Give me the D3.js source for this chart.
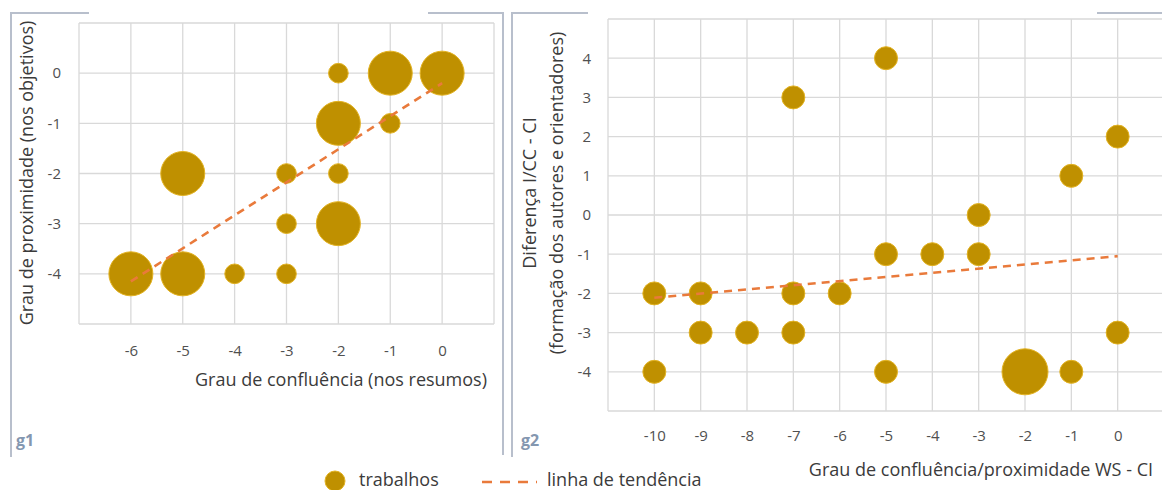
<!DOCTYPE html>
<html>
<head>
<meta charset="utf-8">
<script src="https://cdn.jsdelivr.net/npm/d3@7"></script>
<style>
  body { margin: 0; background: #fff; }
  text { font-family: "Open Sans", Lato, sans-serif; }
</style>
</head>
<body>
<svg id="chart" width="1162" height="490"></svg>
<script>
// g1 data: confluence (abstracts) vs proximity (objectives)
var g1X = [-2, -1, 0, -2, -1, -5, -3, -2, -3, -2, -6, -5, -4, -3];
var g1Y = [0, 0, 0, -1, -1, -2, -2, -2, -3, -3, -4, -4, -4, -4];
var g1Size = [1, 5, 5, 5, 1, 5, 1, 1, 1, 5, 5, 5, 1, 1];
var g1TrendX = [-6, 0];
var g1TrendY = [-4.15, -0.2];
var g1XTicks = [-6, -5, -4, -3, -2, -1, 0];
var g1YTicks = [0, -1, -2, -3, -4];

// g2 data: WS - CI vs I/CC - CI
var g2X = [-5, -7, 0, -1, -3, -5, -4, -3, -10, -9, -7, -6, -9, -8, -7, 0, -10, -5, -2, -1];
var g2Y = [4, 3, 2, 1, 0, -1, -1, -1, -2, -2, -2, -2, -3, -3, -3, -3, -4, -4, -4, -4];
var g2Size = [1, 1, 1, 1, 1, 1, 1, 1, 1, 1, 1, 1, 1, 1, 1, 1, 1, 1, 4, 1];
var g2TrendX = [-10, 0];
var g2TrendY = [-2.11, -1.05];
var g2XTicks = [-10, -9, -8, -7, -6, -5, -4, -3, -2, -1, 0];
var g2YTicks = [4, 3, 2, 1, 0, -1, -2, -3, -4];

var bubbleFill = "#bf9000", bubbleStroke = "#e3b323";
var trendColor = "#e97a3b";
var gridColor = "#d9d9d9";
var frameColor = "#b8bfcc";
var textColor = "#3b3b3b";

var svg = d3.select("#chart");

function zip(xs, ys, ss) {
  return xs.map(function(x, i) { return {x: x, y: ys[i], s: ss ? ss[i] : 1}; });
}

function panel(cfg) {
  var x = d3.scaleLinear().domain(cfg.xDomain).range(cfg.xRange);
  var y = d3.scaleLinear().domain(cfg.yDomain).range(cfg.yRange);
  var r = d3.scaleSqrt().domain([0, cfg.sMax]).range([0, cfg.rMax]);
  var g = svg.append("g");

  // gridlines
  g.append("g").selectAll("line.v")
    .data(d3.range(cfg.xDomain[0], cfg.xDomain[1] + 1))
    .enter().append("line")
      .attr("x1", function(d) { return x(d); }).attr("x2", function(d) { return x(d); })
      .attr("y1", y(cfg.yDomain[0])).attr("y2", y(cfg.yDomain[1]))
      .attr("stroke", gridColor).attr("stroke-width", 1.3);
  g.append("g").selectAll("line.h")
    .data(d3.range(cfg.yDomain[0], cfg.yDomain[1] + 1))
    .enter().append("line")
      .attr("x1", x(cfg.xDomain[0])).attr("x2", x(cfg.xDomain[1]))
      .attr("y1", function(d) { return y(d); }).attr("y2", function(d) { return y(d); })
      .attr("stroke", gridColor).attr("stroke-width", 1.3);

  // axes (labels only, hyphen minus like the original)
  var fmt = function(d) { return String(d); };
  var ax = g.append("g")
    .attr("transform", "translate(0," + cfg.xTickY + ")")
    .call(d3.axisBottom(x).tickValues(cfg.xTicks).tickSize(0).tickFormat(fmt));
  ax.select(".domain").remove();
  ax.selectAll("text").attr("font-size", 15).attr("fill", "#505050")
    .attr("font-family", "'Open Sans', sans-serif");

  var ay = g.append("g")
    .attr("transform", "translate(" + cfg.yTickX + ",0)")
    .call(d3.axisLeft(y).tickValues(cfg.yTicks).tickSize(0).tickFormat(fmt));
  ay.select(".domain").remove();
  ay.selectAll("text").attr("font-size", 15).attr("fill", "#505050")
    .attr("font-family", "'Open Sans', sans-serif");

  // bubbles
  g.append("g").selectAll("circle")
    .data(zip(cfg.px, cfg.py, cfg.ps))
    .enter().append("circle")
      .attr("cx", function(d) { return x(d.x); })
      .attr("cy", function(d) { return y(d.y); })
      .attr("r", function(d) { return r(d.s); })
      .attr("fill", bubbleFill)
      .attr("stroke", bubbleStroke).attr("stroke-width", 1);

  // trend line
  g.append("path")
    .datum(zip(cfg.tx, cfg.ty))
    .attr("d", d3.line().x(function(d) { return x(d.x); }).y(function(d) { return y(d.y); }))
    .attr("fill", "none")
    .attr("stroke", trendColor).attr("stroke-width", 2.6)
    .attr("stroke-dasharray", "8,6");

  return g;
}

var p1 = panel({
  xDomain: [-7, 1], xRange: [79, 494],
  yDomain: [-5, 1], yRange: [324, 23],
  sMax: 5, rMax: 22,
  px: g1X, py: g1Y, ps: g1Size,
  tx: g1TrendX, ty: g1TrendY,
  xTicks: g1XTicks, yTicks: g1YTicks,
  xTickY: 342, yTickX: 64
});

var p2 = panel({
  xDomain: [-11, 1], xRange: [608, 1164],
  yDomain: [-5, 5], yRange: [411, 19],
  sMax: 4, rMax: 23,
  px: g2X, py: g2Y, ps: g2Size,
  tx: g2TrendX, ty: g2TrendY,
  xTicks: g2XTicks, yTicks: g2YTicks,
  xTickY: 427, yTickX: 594
});

// axis titles
svg.append("text").attr("x", 487).attr("y", 386).attr("text-anchor", "end")
  .attr("font-size", 18).attr("fill", textColor)
  .text("Grau de confluência (nos resumos)");
svg.append("text").attr("transform", "translate(33,173) rotate(-90)").attr("text-anchor", "middle")
  .attr("font-size", 18).attr("fill", textColor)
  .text("Grau de proximidade (nos objetivos)");

svg.append("text").attr("x", 1153).attr("y", 476).attr("text-anchor", "end")
  .attr("font-size", 18).attr("fill", textColor)
  .text("Grau de confluência/proximidade WS - CI");
svg.append("text").attr("transform", "translate(536,193) rotate(-90)").attr("text-anchor", "middle")
  .attr("font-size", 18).attr("fill", textColor)
  .text("Diferença I/CC - CI");
svg.append("text").attr("transform", "translate(563,193) rotate(-90)").attr("text-anchor", "middle")
  .attr("font-size", 18).attr("fill", textColor)
  .text("(formação dos autores e orientadores)");

// panel frames
var frames = [
  [[89, 13], [11, 13], [11, 457]],
  [[428, 13], [503, 13], [503, 455]],
  [[588, 13], [512, 13], [512, 457]],
  [[1097, 13], [1162, 13]]
];
svg.append("g").selectAll("path").data(frames).enter().append("path")
  .attr("d", d3.line())
  .attr("fill", "none").attr("stroke", frameColor).attr("stroke-width", 2);

// panel tags
svg.append("text").attr("x", 16).attr("y", 446).attr("font-size", 16)
  .attr("font-weight", "bold").attr("fill", "#8497b0").text("g1");
svg.append("text").attr("x", 521).attr("y", 446).attr("font-size", 16)
  .attr("font-weight", "bold").attr("fill", "#8497b0").text("g2");

// legend
var leg = svg.append("g");
leg.append("circle").attr("cx", 335).attr("cy", 481).attr("r", 10)
  .attr("fill", bubbleFill).attr("stroke", bubbleStroke);
leg.append("text").attr("x", 359).attr("y", 486).attr("font-size", 18)
  .attr("fill", textColor).text("trabalhos");
leg.append("line").attr("x1", 482).attr("x2", 537).attr("y1", 482).attr("y2", 482)
  .attr("stroke", trendColor).attr("stroke-width", 2.6).attr("stroke-dasharray", "10,8");
leg.append("text").attr("x", 547).attr("y", 486).attr("font-size", 18)
  .attr("fill", textColor).text("linha de tendência");
</script>
</body>
</html>
